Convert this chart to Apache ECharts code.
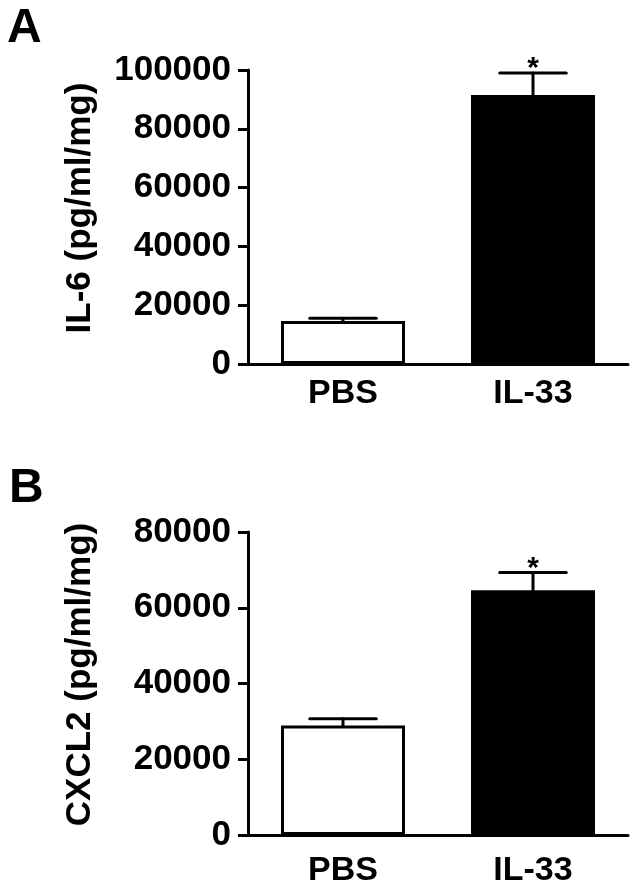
<!DOCTYPE html>
<html>
<head>
<meta charset="utf-8">
<script src="https://cdn.jsdelivr.net/npm/echarts@6/dist/echarts.min.js"></script>
<style>
  html, body { margin: 0; padding: 0; background: #fff; }
  #chart { width: 639px; height: 894px; }
</style>
</head>
<body>
<div id="chart"></div>
<script>
const categories = ['PBS', 'IL-33'];

// panel A: IL-6
const il6Mean = [14600, 91500];
const il6Err = [1000, 7500];
const il6Sig = ['', '*'];
const il6Ticks = { min: 0, max: 100000, interval: 20000 };

// panel B: CXCL2
const cxcl2Mean = [28900, 64600];
const cxcl2Err = [1800, 4700];
const cxcl2Sig = ['', '*'];
const cxcl2Ticks = { min: 0, max: 80000, interval: 20000 };

const FONT = "'Liberation Sans', Arial, sans-serif";
const fills = ['#ffffff', '#000000'];

const chart = echarts.init(document.getElementById('chart'));

const makeX = (gi, gap) => ({
  type: 'category',
  gridIndex: gi,
  data: categories,
  axisTick: { show: false },
  axisLine: { lineStyle: { color: '#000', width: 3 } },
  axisLabel: { color: '#000', fontFamily: FONT, fontWeight: 'bold', fontSize: 34, margin: gap },
});

const makeY = (gi, t, name) => ({
  type: 'value',
  gridIndex: gi,
  min: t.min,
  max: t.max,
  interval: t.interval,
  name: name,
  nameLocation: 'middle',
  nameGap: 150,
  nameTextStyle: {
    color: '#000', fontFamily: FONT, fontWeight: 'bold', fontSize: 35,
    padding: [0, 0, 0, 18],
  },
  splitLine: { show: false },
  axisLine: { show: true, lineStyle: { color: '#000', width: 3 } },
  axisTick: { show: true, length: 10, lineStyle: { color: '#000', width: 3 } },
  axisLabel: {
    color: '#000', fontFamily: FONT, fontWeight: 'bold', fontSize: 35, margin: 17,
    formatter: (v) => String(v),
  },
});

const barSeries = (gi, means) => ({
  type: 'bar',
  xAxisIndex: gi,
  yAxisIndex: gi,
  barWidth: 124,
  data: means.map((v, i) => ({
    value: v,
    itemStyle: { color: fills[i], borderColor: '#000', borderWidth: 3 },
  })),
  z: 2,
});

const errSeries = (gi, means, errs, sig) => ({
  type: 'custom',
  xAxisIndex: gi,
  yAxisIndex: gi,
  z: 3,
  data: means.map((m, i) => [i, m, errs[i], sig[i]]),
  renderItem: (params, api) => {
    const i = api.value(0);
    const m = api.value(1);
    const e = api.value(2);
    const s = sig[i];
    const base = api.coord([i, m]);
    const top = api.coord([i, m + e]);
    const half = api.size([1, 0])[0] * 0.175;
    const style = { stroke: '#000', lineWidth: 3, lineCap: 'round' };
    const kids = [
      { type: 'line', shape: { x1: base[0], y1: base[1], x2: top[0], y2: top[1] }, style },
      { type: 'line', shape: { x1: top[0] - half, y1: top[1], x2: top[0] + half, y2: top[1] }, style },
    ];
    if (s) {
      kids.push({
        type: 'text',
        style: {
          x: top[0], y: top[1] - 4, text: s, align: 'center', verticalAlign: 'middle',
          fill: '#000', font: 'bold 30px ' + FONT,
        },
      });
    }
    return { type: 'group', children: kids };
  },
});

chart.setOption({
  backgroundColor: '#fff',
  animation: false,
  graphic: [
    { type: 'text', left: 7, top: 5, style: { text: 'A', font: 'bold 48px ' + FONT, fill: '#000' } },
    { type: 'text', left: 9, top: 465, style: { text: 'B', font: 'bold 48px ' + FONT, fill: '#000' } },
  ],
  grid: [
    { left: 248, top: 70, width: 380, height: 294 },
    { left: 248, top: 532, width: 380, height: 303 },
  ],
  xAxis: [makeX(0, 13), makeX(1, 19)],
  yAxis: [makeY(0, il6Ticks, 'IL-6 (pg/ml/mg)'), makeY(1, cxcl2Ticks, 'CXCL2 (pg/ml/mg)')],
  series: [
    barSeries(0, il6Mean),
    errSeries(0, il6Mean, il6Err, il6Sig),
    barSeries(1, cxcl2Mean),
    errSeries(1, cxcl2Mean, cxcl2Err, cxcl2Sig),
  ],
});
</script>
</body>
</html>
